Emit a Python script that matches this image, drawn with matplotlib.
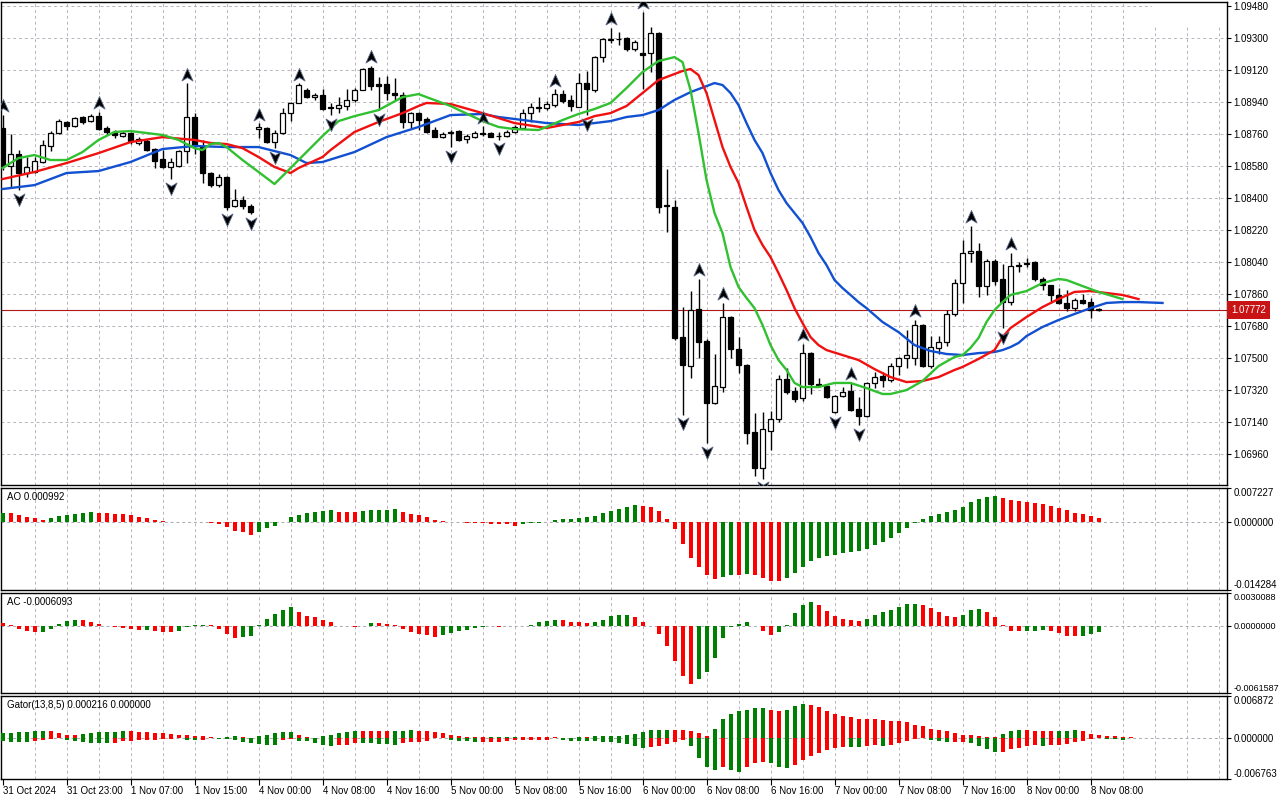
import numpy as np
import matplotlib.pyplot as plt
from matplotlib.path import Path
from matplotlib.transforms import blended_transform_factory

plt.rcParams['font.family'] = ['Liberation Sans', 'DejaVu Sans']

# hourly EURUSD candles, 31 Oct 2024 15:00 .. 8 Nov 2024 09:00
opens = [1.08794, 1.08580, 1.08648, 1.08541, 1.08547, 1.08603, 1.08693, 1.08766, 1.08828, 1.08805,
         1.08856, 1.08833, 1.08861, 1.08794, 1.08772, 1.08749, 1.08766, 1.08710, 1.08721, 1.08676,
         1.08620, 1.08575, 1.08580, 1.08665, 1.08856, 1.08693, 1.08541, 1.08473, 1.08518, 1.08355,
         1.08389, 1.08355, 1.08788, 1.08794, 1.08715, 1.08766, 1.08878, 1.08935, 1.09008, 1.08968,
         1.08980, 1.08912, 1.08907, 1.08918, 1.08952, 1.09008, 1.09132, 1.09042, 1.09042, 1.08991,
         1.08980, 1.08828, 1.08878, 1.08845, 1.08783, 1.08743, 1.08766, 1.08777, 1.08732, 1.08743,
         1.08766, 1.08766, 1.08749, 1.08752, 1.08772, 1.08794, 1.08878, 1.08907, 1.08907, 1.08923,
         1.08985, 1.08952, 1.08912, 1.09047, 1.09008, 1.09193, 1.09289, 1.09295, 1.09300, 1.09238,
         1.09216, 1.09216, 1.09328, 1.08361, 1.08350, 1.07618, 1.07455, 1.07776, 1.07596, 1.07247,
         1.07337, 1.07731, 1.07551, 1.07461, 1.07084, 1.06882, 1.07090, 1.07157, 1.07382, 1.07315,
         1.07275, 1.07528, 1.07354, 1.07343, 1.07197, 1.07287, 1.07315, 1.07213, 1.07174, 1.07360,
         1.07399, 1.07376, 1.07455, 1.07500, 1.07500, 1.07686, 1.07455, 1.07557, 1.07590, 1.07748,
         1.07922, 1.08091, 1.08102, 1.07905, 1.08046, 1.07945, 1.07815, 1.08018, 1.08029, 1.08040,
         1.07945, 1.07911, 1.07855, 1.07810, 1.07781, 1.07826, 1.07815, 1.07776]
highs = [1.08870, 1.08760, 1.08670, 1.08631, 1.08631, 1.08727, 1.08777, 1.08845, 1.08833, 1.08856,
         1.08861, 1.08872, 1.08885, 1.08805, 1.08783, 1.08777, 1.08772, 1.08743, 1.08732, 1.08681,
         1.08670, 1.08625, 1.08670, 1.09047, 1.08878, 1.08727, 1.08547, 1.08535, 1.08524, 1.08451,
         1.08412, 1.08367, 1.08822, 1.08800, 1.08783, 1.08907, 1.08940, 1.09047, 1.09019, 1.08991,
         1.09013, 1.08935, 1.08968, 1.09013, 1.09019, 1.09132, 1.09143, 1.09081, 1.09086, 1.09075,
         1.08996, 1.08884, 1.08884, 1.08856, 1.08800, 1.08772, 1.08783, 1.08783, 1.08760, 1.08777,
         1.08805, 1.08772, 1.08772, 1.08783, 1.08811, 1.08901, 1.08935, 1.08968, 1.08946, 1.09013,
         1.09008, 1.08980, 1.09103, 1.09115, 1.09199, 1.09300, 1.09357, 1.09334, 1.09306, 1.09289,
         1.09447, 1.09362, 1.09334, 1.08563, 1.08389, 1.07787, 1.07877, 1.07945, 1.07607, 1.07523,
         1.07810, 1.07737, 1.07618, 1.07467, 1.07191, 1.07197, 1.07202, 1.07405, 1.07444, 1.07337,
         1.07579, 1.07534, 1.07388, 1.07348, 1.07292, 1.07337, 1.07360, 1.07281, 1.07365, 1.07421,
         1.07421, 1.07472, 1.07506, 1.07658, 1.07714, 1.07692, 1.07624, 1.07624, 1.07770, 1.07945,
         1.08164, 1.08243, 1.08147, 1.08057, 1.08057, 1.08029, 1.08091, 1.08040, 1.08063, 1.08046,
         1.07956, 1.07911, 1.07894, 1.07883, 1.07838, 1.07860, 1.07838, 1.07781]
lows = [1.08558, 1.08462, 1.08445, 1.08518, 1.08541, 1.08597, 1.08665, 1.08760, 1.08783, 1.08800,
        1.08816, 1.08828, 1.08783, 1.08755, 1.08738, 1.08743, 1.08704, 1.08698, 1.08665, 1.08569,
        1.08569, 1.08505, 1.08575, 1.08597, 1.08648, 1.08485, 1.08462, 1.08462, 1.08333, 1.08350,
        1.08338, 1.08310, 1.08738, 1.08710, 1.08681, 1.08760, 1.08833, 1.08935, 1.08963, 1.08952,
        1.08895, 1.08867, 1.08878, 1.08895, 1.08940, 1.09008, 1.09008, 1.08895, 1.08952, 1.08952,
        1.08794, 1.08794, 1.08783, 1.08766, 1.08743, 1.08738, 1.08687, 1.08721, 1.08710, 1.08738,
        1.08749, 1.08743, 1.08727, 1.08743, 1.08766, 1.08794, 1.08828, 1.08884, 1.08895, 1.08912,
        1.08935, 1.08890, 1.08912, 1.08867, 1.08996, 1.09165, 1.09272, 1.09261, 1.09227, 1.09227,
        1.09013, 1.09109, 1.08316, 1.08209, 1.07602, 1.07180, 1.07388, 1.07500, 1.07022, 1.07240,
        1.07309, 1.07500, 1.07416, 1.07017, 1.06837, 1.06820, 1.06983, 1.07140, 1.07298, 1.07253,
        1.07258, 1.07298, 1.07337, 1.07275, 1.07191, 1.07281, 1.07202, 1.07123, 1.07168, 1.07331,
        1.07337, 1.07365, 1.07405, 1.07444, 1.07461, 1.07450, 1.07444, 1.07523, 1.07568, 1.07737,
        1.07810, 1.08040, 1.07843, 1.07855, 1.07910, 1.07669, 1.07798, 1.07984, 1.08012, 1.07933,
        1.07883, 1.07810, 1.07804, 1.07765, 1.07765, 1.07804, 1.07725, 1.07765]
closes = [1.08580, 1.08648, 1.08541, 1.08575, 1.08608, 1.08698, 1.08766, 1.08833, 1.08805, 1.08850,
          1.08828, 1.08861, 1.08788, 1.08772, 1.08755, 1.08766, 1.08721, 1.08732, 1.08670, 1.08608,
          1.08575, 1.08603, 1.08665, 1.08856, 1.08693, 1.08541, 1.08473, 1.08518, 1.08350, 1.08389,
          1.08355, 1.08322, 1.08800, 1.08715, 1.08766, 1.08878, 1.08935, 1.09036, 1.08968, 1.08980,
          1.08901, 1.08907, 1.08923, 1.08952, 1.09008, 1.09126, 1.09030, 1.09030, 1.08991, 1.08980,
          1.08828, 1.08878, 1.08839, 1.08772, 1.08743, 1.08760, 1.08772, 1.08727, 1.08749, 1.08766,
          1.08763, 1.08743, 1.08752, 1.08772, 1.08800, 1.08878, 1.08912, 1.08912, 1.08929, 1.08985,
          1.08946, 1.08918, 1.09047, 1.09013, 1.09193, 1.09295, 1.09295, 1.09297, 1.09238, 1.09278,
          1.09205, 1.09328, 1.08350, 1.08355, 1.07613, 1.07461, 1.07770, 1.07590, 1.07247, 1.07343,
          1.07731, 1.07551, 1.07461, 1.07078, 1.06882, 1.07101, 1.07157, 1.07382, 1.07309, 1.07270,
          1.07528, 1.07354, 1.07348, 1.07281, 1.07287, 1.07309, 1.07208, 1.07174, 1.07360, 1.07393,
          1.07376, 1.07455, 1.07500, 1.07517, 1.07686, 1.07455, 1.07562, 1.07590, 1.07748, 1.07922,
          1.08091, 1.08102, 1.07905, 1.08046, 1.07933, 1.07815, 1.08018, 1.08023, 1.08035, 1.07945,
          1.07911, 1.07855, 1.07810, 1.07781, 1.07826, 1.07810, 1.07770, 1.07772]

# Alligator lines (already shifted forward), bar index -> price
jaw_bars = [0, 4, 8, 12, 16, 20, 24, 28, 32, 36, 38, 40, 44, 48, 52, 56, 60, 62, 64, 68,
            72, 76, 78, 80, 82, 84, 86, 88, 89, 90, 91, 92, 93, 94, 95, 96, 97, 98, 99, 100,
            101, 102, 103, 104, 105, 106, 107, 108, 110, 112, 114, 116, 118, 120, 122, 124, 125, 126, 127, 128,
            130, 132, 134, 136, 138, 140, 142, 145]
jaw_vals = [1.08451, 1.08473, 1.08541, 1.08552, 1.08603, 1.08676, 1.08693, 1.08687, 1.08687, 1.08642,
            1.08597, 1.08603, 1.08659, 1.08743, 1.08800, 1.08867, 1.08873, 1.08856, 1.08845, 1.08822,
            1.08811, 1.08833, 1.08856, 1.08867, 1.08895, 1.08952, 1.08996, 1.09030, 1.09047, 1.09036,
            1.08991, 1.08923, 1.08822, 1.08727, 1.08653, 1.08541, 1.08445, 1.08372, 1.08316, 1.08260,
            1.08181, 1.08091, 1.08023, 1.07939, 1.07894, 1.07855, 1.07815, 1.07781, 1.07703, 1.07646,
            1.07573, 1.07540, 1.07523, 1.07517, 1.07528, 1.07534, 1.07545, 1.07562, 1.07585, 1.07624,
            1.07675, 1.07714, 1.07748, 1.07781, 1.07810, 1.07815, 1.07815, 1.07810]
teeth_bars = [0, 4, 8, 12, 16, 20, 24, 26, 28, 30, 32, 34, 36, 37, 40, 41, 44, 47, 50, 52,
              53, 56, 60, 62, 64, 68, 70, 72, 74, 76, 78, 80, 82, 84, 85, 86, 87, 88, 89, 90,
              91, 92, 93, 94, 95, 96, 97, 98, 99, 100, 101, 102, 103, 105, 107, 109, 111, 113, 115, 117,
              119, 120, 122, 124, 125, 126, 128, 130, 132, 134, 136, 138, 140, 142]
teeth_vals = [1.08507, 1.08547, 1.08597, 1.08653, 1.08715, 1.08743, 1.08727, 1.08710, 1.08704, 1.08681,
              1.08631, 1.08575, 1.08541, 1.08569, 1.08631, 1.08670, 1.08772, 1.08828, 1.08878, 1.08918,
              1.08935, 1.08929, 1.08878, 1.08850, 1.08822, 1.08794, 1.08811, 1.08828, 1.08861, 1.08878,
              1.08918, 1.08991, 1.09064, 1.09098, 1.09115, 1.09126, 1.09092, 1.08991, 1.08839, 1.08687,
              1.08575, 1.08485, 1.08350, 1.08220, 1.08136, 1.08068, 1.07978, 1.07883, 1.07781, 1.07697,
              1.07618, 1.07573, 1.07545, 1.07517, 1.07489, 1.07438, 1.07393, 1.07365, 1.07371, 1.07393,
              1.07433, 1.07450, 1.07495, 1.07545, 1.07618, 1.07669, 1.07731, 1.07787, 1.07832, 1.07872,
              1.07877, 1.07866, 1.07855, 1.07832]
lips_bars = [0, 2, 4, 6, 8, 10, 12, 14, 16, 20, 22, 24, 25, 26, 27, 28, 30, 32, 34, 36,
             38, 40, 42, 44, 47, 50, 52, 53, 56, 60, 62, 64, 67, 68, 70, 72, 74, 76, 78, 80,
             82, 84, 85, 86, 87, 88, 89, 90, 91, 92, 93, 94, 95, 96, 97, 98, 99, 100, 102, 104,
             106, 108, 110, 111, 113, 115, 117, 119, 120, 121, 122, 123, 124, 125, 126, 128, 130, 132, 133, 135,
             137, 140]
lips_vals = [1.08569, 1.08625, 1.08642, 1.08614, 1.08614, 1.08659, 1.08727, 1.08772, 1.08777, 1.08755,
             1.08727, 1.08681, 1.08670, 1.08704, 1.08710, 1.08687, 1.08614, 1.08547, 1.08479, 1.08569,
             1.08659, 1.08749, 1.08833, 1.08861, 1.08895, 1.08968, 1.08985, 1.08968, 1.08918, 1.08833,
             1.08800, 1.08788, 1.08783, 1.08800, 1.08839, 1.08873, 1.08901, 1.08935, 1.09019, 1.09109,
             1.09171, 1.09193, 1.09165, 1.09008, 1.08766, 1.08502, 1.08316, 1.08203, 1.08012, 1.07900,
             1.07838, 1.07781, 1.07686, 1.07573, 1.07489, 1.07433, 1.07360, 1.07337, 1.07337, 1.07360,
             1.07360, 1.07331, 1.07298, 1.07298, 1.07320, 1.07371, 1.07455, 1.07506, 1.07517, 1.07557,
             1.07613, 1.07703, 1.07770, 1.07815, 1.07855, 1.07877, 1.07922, 1.07945, 1.07939, 1.07905,
             1.07872, 1.07832]

fractal_up = [0, 12, 23, 32, 37, 46, 60, 69, 76, 80, 87, 90, 100, 106, 114, 121, 126]
fractal_down = [2, 21, 28, 31, 34, 41, 47, 56, 62, 73, 85, 88, 95, 104, 107, 125]

# oscillators, in units of 1e-4
ao = [19.6, 19.0, 16.2, 12.0, 8.4, 5.7, 8.4, 12.7, 14.8, 18.4,
      19.0, 20.9, 20.5, 18.8, 18.1, 16.9, 14.8, 10.6, 9.9, 5.7,
      3.6, 0.8, 0.2, 0.4, 0.6, 0.2, -0.6, -3.6, -10.6, -17.5,
      -21.1, -26.0, -19.6, -12.7, -7.0, 1.5, 12.0, 15.4, 19.0, 22.6,
      24.7, 25.1, 22.6, 22.4, 22.2, 24.7, 24.9, 26.4, 26.8, 27.0,
      22.6, 18.4, 14.8, 10.6, 4.2, 2.7, 0.6, -0.4, -2.1, -2.3,
      -2.5, -4.2, -4.4, -4.6, -7.0, -4.2, -2.1, -0.6, 0.2, 4.9,
      7.0, 7.2, 9.9, 12.0, 14.1, 19.0, 23.8, 28.1, 33.1, 36.5,
      35.2, 33.1, 23.8, 7.0, -14.1, -45.8, -74.5, -93.5, -111.2, -119.6,
      -114.6, -111.2, -111.8, -109.1, -111.2, -116.7, -123.0, -123.4, -116.7, -106.1,
      -93.5, -80.8, -74.5, -71.1, -69.0, -65.4, -61.8, -59.7, -56.3, -47.9,
      -40.7, -32.3, -21.7, -11.2, -1.5, 6.3, 13.3, 17.5, 21.1, 26.0,
      33.1, 42.2, 48.5, 53.4, 55.5, 50.6, 46.4, 44.3, 42.8, 40.7,
      38.6, 34.4, 29.5, 25.3, 19.0, 17.5, 13.3, 9.92]
ac = [2.7, 0.9, -2.5, -4.5, -6.1, -5.9, -2.5, 1.8, 4.5, 5.2,
      5.0, 3.6, 1.5, -0.3, -1.5, -2.1, -3.0, -3.9, -3.8, -5.2,
      -5.3, -6.1, -5.2, -1.5, 0.6, 0.9, 0.6, -2.5, -7.5, -11.2,
      -10.6, -9.1, 0.3, 6.6, 10.6, 14.3, 17.3, 12.7, 9.1, 8.4,
      5.4, 3.6, 0.05, -0.3, -1.5, -0.3, 2.5, 2.4, 1.5, 0.6,
      -2.5, -6.1, -7.5, -8.4, -10.0, -8.4, -7.0, -5.2, -3.4, -2.1,
      -1.5, -0.6, -1.5, -0.5, -0.6, 0.2, 0.9, 3.6, 4.5, 5.4,
      5.3, 3.6, 3.5, 2.7, 3.6, 5.4, 9.1, 10.0, 10.1, 8.2,
      3.6, -0.2, -7.5, -18.8, -31.8, -46.0, -52.9, -49.0, -42.4, -29.7,
      -11.2, -1.5, 1.5, 3.6, -0.3, -5.2, -8.2, -6.1, 0.9, 11.5,
      19.1, 21.8, 19.1, 13.6, 9.1, 6.6, 5.2, 4.5, 6.6, 10.0,
      12.7, 14.5, 17.5, 19.7, 19.8, 19.1, 16.1, 12.7, 9.1, 8.2,
      9.7, 14.3, 15.4, 12.7, 8.2, 0.9, -4.5, -5.2, -5.1, -5.0,
      -3.4, -5.2, -7.0, -9.1, -9.7, -9.1, -7.5, -6.093]
gator_up = [7.6, 7.8, 9.2, 9.4, 10.9, 11.0, 10.7, 7.6, 5.3, 5.2,
            6.5, 7.6, 9.2, 10.2, 10.4, 11.8, 11.7, 10.2, 9.2, 8.1,
            7.6, 6.5, 5.3, 4.9, 3.7, 2.8, 1.1, 0.5, 1.6, 3.7,
            2.1, 0.5, 3.7, 5.3, 7.6, 9.2, 10.2, 5.3, 0.8, 0.5,
            3.7, 5.3, 8.1, 10.2, 11.8, 11.7, 11.5, 11.3, 10.9, 11.8,
            12.0, 12.2, 11.8, 11.7, 10.2, 8.1, 5.3, 2.8, 1.6, 0.8,
            0.6, 1.6, 1.8, 1.9, 2.1, 1.9, 1.8, 1.6, 1.5, 1.1,
            0.5, 0.3, 1.6, 1.1, 2.8, 2.9, 3.1, 3.7, 5.3, 6.5,
            9.2, 12.5, 13.4, 13.6, 13.3, 12.5, 11.8, 7.3, 2.8, 15.1,
            31.3, 39.4, 43.3, 45.8, 48.6, 49.7, 45.8, 44.2, 45.8, 53.0,
            55.6, 53.9, 50.2, 44.2, 39.4, 36.1, 33.5, 31.3, 30.8, 30.6,
            28.7, 27.1, 26.9, 25.4, 21.5, 19.0, 15.1, 13.4, 10.9, 8.1,
            4.4, 4.2, 2.8, 1.1, 1.0, 6.5, 10.9, 12.5, 12.3, 10.9,
            10.7, 10.5, 10.9, 11.8, 12.5, 10.9, 7.0, 5.3, 3.7, 2.8,
            1.6, 1.1, 0.5]
gator_down = [6.0, 6.2, 7.0, 7.1, 6.0, 2.8, 1.1, 0.5, 2.8, 4.4,
              7.0, 8.6, 8.7, 8.9, 8.7, 6.0, 4.4, 4.2, 3.2, 2.8,
              1.6, 1.5, 0.5, 2.8, 3.2, 3.1, 0.5, 1.6, 1.8, 3.2,
              7.0, 8.6, 10.9, 11.0, 12.5, 2.8, 1.6, 4.4, 6.0, 8.6,
              12.5, 13.4, 11.3, 11.2, 8.6, 8.7, 8.9, 9.7, 10.9, 11.0,
              8.6, 7.0, 6.8, 4.4, 0.8, 0.5, 3.7, 4.4, 4.5, 7.3,
              7.0, 6.5, 6.3, 4.4, 4.2, 4.1, 3.7, 3.2, 2.8, 0.8,
              3.7, 4.9, 5.3, 5.5, 5.7, 6.5, 6.6, 8.1, 10.9, 13.4,
              16.2, 14.6, 13.4, 10.9, 6.5, 2.8, 13.0, 32.4, 48.6, 53.0,
              48.6, 53.0, 56.7, 48.6, 42.1, 38.9, 42.1, 48.6, 48.8, 44.2,
              36.8, 29.6, 25.4, 19.9, 16.2, 14.6, 14.7, 14.9, 13.4, 11.8,
              13.4, 11.8, 8.1, 5.3, 1.6, 0.5, 3.7, 5.3, 6.8, 6.6,
              6.5, 8.1, 13.4, 17.8, 22.8, 22.7, 17.8, 16.2, 13.4, 11.8,
              13.4, 11.8, 11.7, 9.7, 6.5, 4.4, 1.6, 0.5, 1.3, 2.4,
              3.7]

price_ticks = [1.06960, 1.07140, 1.07320, 1.07500, 1.07680, 1.07860, 1.08040, 1.08220,
               1.08400, 1.08580, 1.08760, 1.08940, 1.09120, 1.09300, 1.09480]
time_labels = ['31 Oct 2024', '31 Oct 23:00', '1 Nov 07:00', '1 Nov 15:00', '4 Nov 00:00',
               '4 Nov 08:00', '4 Nov 16:00', '5 Nov 00:00', '5 Nov 08:00', '5 Nov 16:00',
               '6 Nov 00:00', '6 Nov 08:00', '6 Nov 16:00', '7 Nov 00:00', '7 Nov 08:00',
               '7 Nov 16:00', '8 Nov 00:00', '8 Nov 08:00']
last_price = 1.07772

GREEN = '#008000'
RED = '#ff0000'
GRID = '#bab3be'
FS = 7.0


def trend_colors(vals, first):
    cols = [first]
    for i in range(1, len(vals)):
        cols.append(GREEN if vals[i] > vals[i - 1] else RED)
    return cols


fig = plt.figure(figsize=(12.8, 8), dpi=100)
L, W = 1 / 1280, 1226 / 1280
ax = fig.add_axes([L, 315 / 800, W, 483 / 800])
ax_ao = fig.add_axes([L, 210 / 800, W, 102 / 800])
ax_ac = fig.add_axes([L, 107 / 800, W, 100 / 800])
ax_g = fig.add_axes([L, 21 / 800, W, 83 / 800])

x = np.arange(len(opens))
o = np.array(opens)
c = np.array(closes)

for a in (ax, ax_ao, ax_ac, ax_g):
    a.set_xlim(-0.19, 153.06)
    for gx in range(4, 153, 4):
        a.axvline(gx, color=GRID, lw=0.7, ls=(0, (3, 3)), zorder=0.5)
    for s in a.spines.values():
        s.set_color('black')
        s.set_linewidth(1)
    a.tick_params(axis='x', length=0, labelbottom=False)
    a.yaxis.tick_right()
    a.tick_params(axis='y', direction='out', length=3, width=0.8, labelsize=FS, pad=1.5)

# ---- main price panel
ax.set_ylim(1.06786, 1.09503)
ax.set_yticks(price_ticks)
ax.set_yticklabels([f'{p:.5f}' for p in price_ticks])
for p in price_ticks:
    ax.axhline(p, color=GRID, lw=0.7, ls=(0, (3, 3)), zorder=0.5)
ax.add_patch(plt.Rectangle((0.939, 0.952), 0.061, 0.048, transform=ax.transAxes,
                           color='white', zorder=0.6))

ax.vlines(x, lows, highs, color='black', lw=1, zorder=3)
ax.bar(x, c - o, bottom=o, width=0.62,
       color=np.where(c >= o, 'white', 'black'), edgecolor='black', linewidth=0.9, zorder=4)

ax.plot(jaw_bars, jaw_vals, color='#1150d0', lw=1.7, zorder=5)
ax.plot(teeth_bars, teeth_vals, color='#f01010', lw=1.7, zorder=5)
ax.plot(lips_bars, lips_vals, color='#30c030', lw=1.7, zorder=5)

up_path = Path([(0, 1), (0.8, -0.8), (0, -0.3), (-0.8, -0.8), (0, 1)])
down_path = Path([(0, -1), (0.8, 0.8), (0, 0.3), (-0.8, 0.8), (0, -1)])
ax.plot(fractal_up, [highs[i] + 0.00048 for i in fractal_up], ls='none', marker=up_path,
        ms=10, mfc='black', mec='#5a6a8a', mew=0.6, zorder=6)
ax.plot(fractal_down, [lows[i] - 0.00048 for i in fractal_down], ls='none', marker=down_path,
        ms=10, mfc='black', mec='#5a6a8a', mew=0.6, zorder=6)

ax.axhline(last_price, color='#b01818', lw=0.8, zorder=2)
tr = blended_transform_factory(ax.transAxes, ax.transData)
ax.text(1.0035, last_price, f'{last_price:.5f}', transform=tr, color='white', fontsize=FS,
        va='center', ha='left', bbox=dict(boxstyle='square,pad=0.4', fc='#c81414', ec='none'))

# ---- oscillator panels
def osc_panel(a, vals, cols, lo, hi, labels, title, lsize=FS):
    a.set_ylim(lo, hi)
    a.bar(np.arange(len(vals)), np.array(vals) * 1e-4, width=0.5, color=cols, zorder=3)
    a.axhline(0, color='#a8a8b0', lw=0.7, ls=(0, (3, 3)), zorder=2)
    a.set_yticks([lo, 0, hi])
    a.set_yticklabels(labels, fontsize=lsize)
    tl = a.get_yticklabels()
    tl[0].set_va('bottom')
    tl[2].set_va('top')
    a.text(0.005, 0.91, title, transform=a.transAxes, fontsize=FS, va='center', ha='left')


osc_panel(ax_ao, ao, trend_colors(ao, GREEN), -0.014284, 0.007227,
          ['-0.014284', '0.000000', '0.007227'], 'AO 0.000992')
osc_panel(ax_ac, ac, trend_colors(ac, RED), -0.0061587, 0.0030088,
          ['-0.0061587', '0.0000000', '0.0030088'], 'AC -0.0006093', lsize=6.5)

ax_g.set_ylim(-0.006763, 0.006872)
ax_g.bar(np.arange(len(gator_up)), np.array(gator_up) * 1e-4, width=0.5,
         color=trend_colors(gator_up, GREEN), zorder=3)
ax_g.bar(np.arange(len(gator_down)), -np.array(gator_down) * 1e-4, width=0.5,
         color=trend_colors(gator_down, GREEN), zorder=3)
ax_g.axhline(0, color='#a8a8b0', lw=0.7, ls=(0, (3, 3)), zorder=2)
ax_g.set_yticks([-0.006763, 0, 0.006872])
ax_g.set_yticklabels(['-0.006763', '0.000000', '0.006872'])
gl = ax_g.get_yticklabels()
gl[0].set_va('bottom')
gl[2].set_va('top')
ax_g.text(0.005, 0.89, 'Gator(13,8,5) 0.000216 0.000000', transform=ax_g.transAxes,
          fontsize=FS, va='center', ha='left')

ax_g.set_xticks(range(0, 8 * len(time_labels), 8))
ax_g.set_xticklabels(time_labels)
ax_g.tick_params(axis='x', length=4, width=0.8, labelbottom=True, labelsize=FS, pad=1)
for lbl in ax_g.get_xticklabels():
    lbl.set_ha('left')

fig.savefig('out.png', dpi=100)
